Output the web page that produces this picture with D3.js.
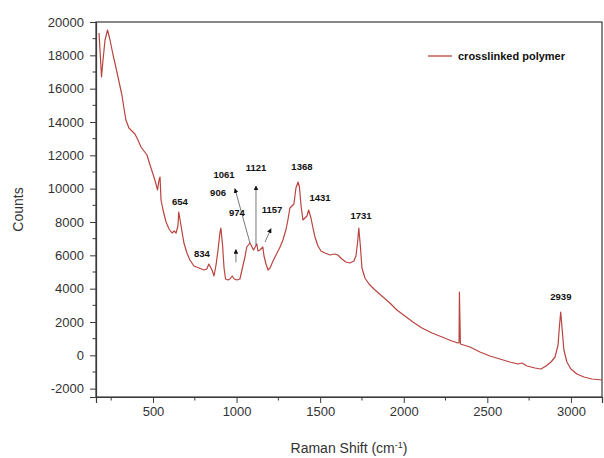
<!DOCTYPE html>
<html>
<head>
<meta charset="utf-8">
<script src="https://cdn.jsdelivr.net/npm/d3@7"></script>
<style>
  html, body { margin: 0; padding: 0; background: #fff; }
  svg { display: block; font-family: "Liberation Sans", Arial, sans-serif; }
</style>
</head>
<body>
<svg id="chart" width="604" height="458"></svg>
<script>
// Raman spectrum of the crosslinked polymer
const shift = [177, 183, 192, 201, 213, 228, 243, 261, 279, 297, 314, 326, 338, 356, 374, 392, 410, 428, 446, 464,
  482, 500, 518, 527, 536, 542, 548, 560, 578, 596, 614, 626, 638, 649, 654, 670, 685, 703, 721, 745,
  775, 805, 822, 834, 853, 865, 877, 889, 901, 906, 916, 925, 934, 948, 960, 974, 986, 1002, 1020, 1032,
  1050, 1061, 1080, 1092, 1101, 1121, 1128, 1140, 1157, 1164, 1176, 1188, 1200, 1218, 1236, 1260, 1277, 1295, 1307, 1319,
  1331, 1343, 1355, 1368, 1376, 1385, 1397, 1409, 1421, 1431, 1445, 1457, 1469, 1487, 1505, 1529, 1559, 1588, 1606, 1630,
  1654, 1678, 1702, 1714, 1724, 1731, 1740, 1750, 1768, 1792, 1828, 1869, 1917, 1959, 2007, 2055, 2109, 2169, 2229, 2288,
  2324, 2331, 2333, 2339, 2396, 2456, 2515, 2575, 2635, 2683, 2707, 2737, 2785, 2821, 2851, 2881, 2905, 2923, 2932, 2939,
  2948, 2958, 2976, 3000, 3036, 3078, 3126, 3186];
const counts = [19340, 18320, 16700, 17720, 18920, 19520, 18920, 18020, 17240, 16400, 15620, 14840, 14120, 13640, 13460, 13280, 12920, 12500, 12260, 12020,
  11420, 10880, 10280, 9920, 10520, 10700, 9320, 8720, 8000, 7580, 7340, 7460, 7340, 7760, 8600, 7640, 6740, 6140, 5720, 5360,
  5240, 5120, 5180, 5480, 5120, 4760, 5420, 6320, 7400, 7640, 6620, 5240, 4580, 4520, 4580, 4760, 4580, 4520, 4580, 5120,
  5900, 6500, 6740, 6500, 6320, 6680, 6260, 6320, 6500, 5960, 5480, 5120, 5240, 5660, 6020, 6500, 6920, 7520, 8120, 8840,
  8960, 9080, 10040, 10400, 10100, 9020, 8120, 8240, 8360, 8720, 8240, 7640, 7100, 6560, 6260, 6140, 6020, 6080, 6020, 5780,
  5600, 5540, 5660, 5960, 6800, 7640, 6620, 5240, 4640, 4280, 3920, 3560, 3140, 2720, 2360, 2000, 1640, 1340, 1100, 860,
  740, 760, 3800, 680, 500, 200, -40, -220, -400, -520, -460, -640, -760, -820, -640, -400, -100, 620, 1820, 2600,
  1520, 320, -400, -820, -1120, -1300, -1420, -1480];

// Peak annotations: label text, label anchor (shift, counts)
const peakLabels = ["654", "834", "906", "974", "1061", "1121", "1157", "1368", "1431", "1731", "2939"];
const labelShift = [661, 793, 889, 1002, 925, 1116, 1212, 1391, 1499, 1744, 2940];
const labelCounts = [9020, 5900, 9560, 8360, 10660, 11040, 8540, 11120, 9260, 8180, 3320];

// Arrows pointing from peaks toward their labels: [fromShift, fromCounts, toShift, toCounts]
const arrows = [
  [996, 5580, 996, 6350],
  [1080, 6740, 990, 10000],
  [1116, 6620, 1116, 10160],
  [1170, 6800, 1206, 7600]
];

const xTicks = [500, 1000, 1500, 2000, 2500, 3000];
const yTicks = [-2000, 0, 2000, 4000, 6000, 8000, 10000, 12000, 14000, 16000, 18000, 20000];
const seriesName = "crosslinked polymer";

const W = 604, H = 458;
const margin = { left: 96, top: 22, right: 2, bottom: 61 };
const svg = d3.select("#chart");

const x = d3.scaleLinear().domain([159, 3186]).range([margin.left, W - margin.right]);
const y = d3.scaleLinear().domain([-2500, 20000]).range([H - margin.bottom, margin.top]);

const axisColor = "#3a3a3a";
const lineColor = "#b9443f";

// frame
svg.append("rect")
  .attr("x", margin.left).attr("y", margin.top)
  .attr("width", W - margin.right - margin.left)
  .attr("height", H - margin.bottom - margin.top)
  .attr("fill", "none").attr("stroke", axisColor).attr("stroke-width", 1.2);

// minor ticks
const xMinor = d3.range(250, 3186, 250).filter(v => v % 500 !== 0);
const yMinor = d3.range(-2000, 20001, 1000).filter(v => v % 2000 !== 0);

const gx = svg.append("g").attr("transform", `translate(0,${H - margin.bottom})`);
gx.call(d3.axisBottom(x).tickValues(xTicks).tickSize(6).tickPadding(4).tickFormat(d => String(d)));
gx.append("g").selectAll("line").data(xMinor).join("line")
  .attr("x1", d => x(d)).attr("x2", d => x(d)).attr("y1", 0).attr("y2", 3.5)
  .attr("stroke", axisColor);

const gy = svg.append("g").attr("transform", `translate(${margin.left},0)`);
gy.call(d3.axisLeft(y).tickValues(yTicks).tickSize(6).tickPadding(6).tickFormat(d => String(d)));
gy.append("g").selectAll("line").data(yMinor).join("line")
  .attr("y1", d => y(d)).attr("y2", d => y(d)).attr("x1", 0).attr("x2", -3.5)
  .attr("stroke", axisColor);

[gx, gy].forEach(g => {
  g.select(".domain").attr("stroke", axisColor).attr("stroke-width", 1.2);
  g.selectAll(".tick line").attr("stroke", axisColor);
  g.selectAll(".tick text").attr("fill", "#333").style("font-size", "13px")
    .style("font-family", "'Liberation Sans', Arial, sans-serif");
});

// spectrum
const pts = shift.map((s, i) => [s, counts[i]]);
svg.append("path")
  .datum(pts)
  .attr("fill", "none")
  .attr("stroke", lineColor)
  .attr("stroke-width", 1.2)
  .attr("stroke-linejoin", "round")
  .attr("d", d3.line().x(d => x(d[0])).y(d => y(d[1])));

// arrows
const defs = svg.append("defs");
defs.append("marker").attr("id", "head")
  .attr("viewBox", "0 0 10 10").attr("refX", 9).attr("refY", 5)
  .attr("markerWidth", 6).attr("markerHeight", 6).attr("orient", "auto")
  .append("path").attr("d", "M0,0 L10,5 L0,10 z").attr("fill", "#111");

svg.append("g").selectAll("line").data(arrows).join("line")
  .attr("x1", d => x(d[0])).attr("y1", d => y(d[1]))
  .attr("x2", d => x(d[2])).attr("y2", d => y(d[3]))
  .attr("stroke", "#555").attr("stroke-width", 0.8)
  .attr("marker-end", "url(#head)");

// peak labels
svg.append("g").selectAll("text").data(peakLabels).join("text")
  .attr("x", (d, i) => x(labelShift[i]))
  .attr("y", (d, i) => y(labelCounts[i]))
  .attr("text-anchor", "middle")
  .attr("fill", "#111")
  .style("font-size", "9.5px").style("font-weight", "bold")
  .text(d => d);

// legend
const lg = svg.append("g");
lg.append("line").attr("x1", 428).attr("x2", 452).attr("y1", 56).attr("y2", 56)
  .attr("stroke", lineColor).attr("stroke-width", 1.3);
lg.append("text").attr("x", 458).attr("y", 60)
  .attr("fill", "#111").style("font-size", "11px").style("font-weight", "bold")
  .text(seriesName);

// axis titles
svg.append("text")
  .attr("transform", `translate(23,${(margin.top + H - margin.bottom) / 2}) rotate(-90)`)
  .attr("text-anchor", "middle").attr("fill", "#333").style("font-size", "14px")
  .text("Counts");

const xt = svg.append("text")
  .attr("x", (margin.left + W - margin.right) / 2).attr("y", 453)
  .attr("text-anchor", "middle").attr("fill", "#333").style("font-size", "14px");
xt.append("tspan").text("Raman Shift (cm");
xt.append("tspan").attr("dy", -5).style("font-size", "9px").text("-1");
xt.append("tspan").attr("dy", 5).text(")");
</script>
</body>
</html>
